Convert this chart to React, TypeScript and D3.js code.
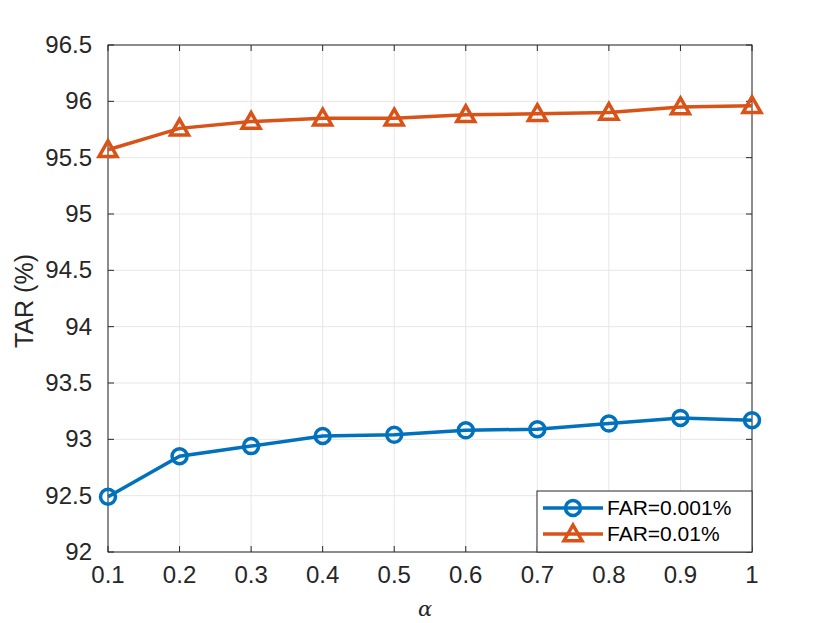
import React from "react";
import * as d3 from "d3";

const alphas = [0.1, 0.2, 0.3, 0.4, 0.5, 0.6, 0.7, 0.8, 0.9, 1.0];
const far001 = [92.49, 92.85, 92.94, 93.03, 93.04, 93.08, 93.09, 93.14, 93.19, 93.17];
const far01 = [95.57, 95.76, 95.82, 95.85, 95.85, 95.88, 95.89, 95.9, 95.95, 95.96];
const xTicks = [0.1, 0.2, 0.3, 0.4, 0.5, 0.6, 0.7, 0.8, 0.9, 1];
const yTicks = [92, 92.5, 93, 93.5, 94, 94.5, 95, 95.5, 96, 96.5];
const seriesNames = ["FAR=0.001%", "FAR=0.01%"];
const colors = ["#0072BD", "#D95319"];

export default function App() {
  const W = 830, H = 623;
  const L = 108, R = 752, T = 45, B = 552;
  const x = d3.scaleLinear().domain([0.1, 1]).range([L, R]);
  const y = d3.scaleLinear().domain([92, 96.5]).range([B, T]);
  const line = d3.line<number>().x((_, i) => x(alphas[i])).y((d) => y(d));
  const font = "'Liberation Sans', Arial, Helvetica, sans-serif";
  const tri = (cx: number, cy: number, s = 9) =>
    `M${cx},${cy - s} L${cx + s},${cy + s * 0.75} L${cx - s},${cy + s * 0.75} Z`;
  const lgX = 537, lgY = 491, lgW = 215, lgH = 61;
  return (
    <svg width={W} height={H} style={{ position: "absolute", left: 0, top: 0, background: "#fff" }} fontFamily={font}>
      <rect x={0} y={0} width={W} height={H} fill="#fff" />
      {xTicks.map((t) => (
        <line key={"gx" + t} x1={x(t)} x2={x(t)} y1={T} y2={B} stroke="#e6e6e6" strokeWidth={1} />
      ))}
      {yTicks.map((t) => (
        <line key={"gy" + t} x1={L} x2={R} y1={y(t)} y2={y(t)} stroke="#e6e6e6" strokeWidth={1} />
      ))}
      {xTicks.map((t) => (
        <g key={"tx" + t}>
          <line x1={x(t)} x2={x(t)} y1={B} y2={B - 6} stroke="#262626" />
          <line x1={x(t)} x2={x(t)} y1={T} y2={T + 6} stroke="#262626" />
          <text x={x(t)} y={B + 31} textAnchor="middle" fontSize={24} fill="#262626">{String(t)}</text>
        </g>
      ))}
      {yTicks.map((t) => (
        <g key={"ty" + t}>
          <line x1={L} x2={L + 6} y1={y(t)} y2={y(t)} stroke="#262626" />
          <line x1={R} x2={R - 6} y1={y(t)} y2={y(t)} stroke="#262626" />
          <text x={L - 16} y={y(t) + 8} textAnchor="end" fontSize={24} fill="#262626">{String(t)}</text>
        </g>
      ))}
      <rect x={L} y={T} width={R - L} height={B - T} fill="none" stroke="#262626" strokeWidth={1} />
      <path d={line(far001) || ""} fill="none" stroke={colors[0]} strokeWidth={3.5} />
      {far001.map((v, i) => (
        <circle key={"c" + i} cx={x(alphas[i])} cy={y(v)} r={7.5} fill="none" stroke={colors[0]} strokeWidth={3.5} />
      ))}
      <path d={line(far01) || ""} fill="none" stroke={colors[1]} strokeWidth={3.5} />
      {far01.map((v, i) => (
        <path key={"t" + i} d={tri(x(alphas[i]), y(v))} fill="none" stroke={colors[1]} strokeWidth={3.5} strokeLinejoin="miter" />
      ))}
      <text x={425} y={616} textAnchor="middle" fontSize={21} fontStyle="italic" fontFamily="'DejaVu Serif', serif" fill="#262626">α</text>
      <text transform={`translate(33,301) rotate(-90)`} textAnchor="middle" fontSize={25} fill="#262626">TAR (%)</text>
      <rect x={lgX} y={lgY} width={lgW} height={lgH} fill="#fff" stroke="#262626" strokeWidth={1} />
      {seriesNames.map((n, i) => {
        const cy = lgY + 17 + i * 26;
        return (
          <g key={n}>
            <line x1={lgX + 6} x2={lgX + 66} y1={cy} y2={cy} stroke={colors[i]} strokeWidth={3.5} />
            {i === 0 ? (
              <circle cx={lgX + 36} cy={cy} r={7.5} fill="none" stroke={colors[0]} strokeWidth={3.5} />
            ) : (
              <path d={tri(lgX + 36, cy)} fill="none" stroke={colors[1]} strokeWidth={3.5} />
            )}
            <text x={lgX + 70} y={cy + 7} fontSize={21} fill="#000">{n}</text>
          </g>
        );
      })}
    </svg>
  );
}
